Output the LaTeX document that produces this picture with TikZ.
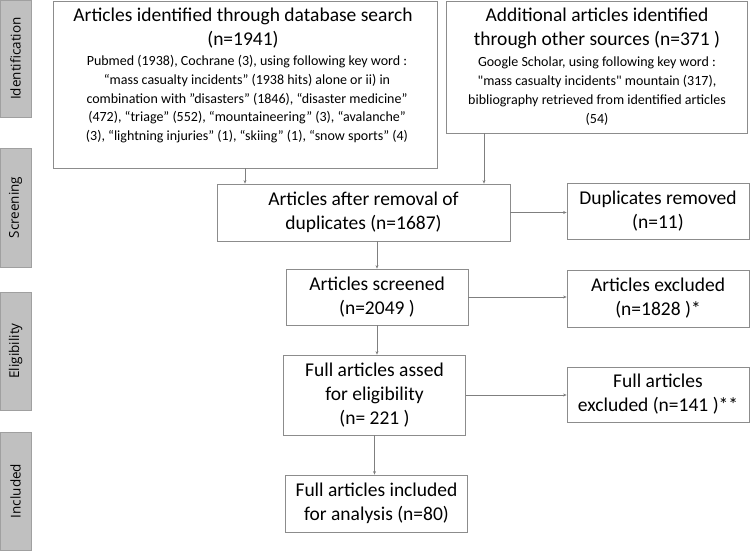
\documentclass[tikz,border=0pt]{standalone}
\usepackage{fontspec}
\setmainfont{Carlito}[Ligatures=TeXOff]
\newfontfamily\sidefont{Open Sans}
\usetikzlibrary{arrows.meta}
\definecolor{boxgray}{HTML}{8C8C8C}
\definecolor{arrgray}{HTML}{7F7F7F}
\definecolor{stagefill}{HTML}{C0C0C0}
\definecolor{stagegray}{HTML}{A0A0A0}

\begin{document}
\begin{tikzpicture}[x=1pt, y=-1pt,
  box/.style={draw=boxgray, line width=0.8pt, minimum width=182pt, minimum height=56pt,
    align=center, inner sep=2pt, font=\fontsize{19.5}{24}\selectfont},
  big/.style={anchor=north, align=center, inner sep=0pt, font=\fontsize{19.5}{24}\selectfont},
  small/.style={anchor=north, align=center, inner sep=0pt, font=\fontsize{14}{18.8}\selectfont},
  stage/.style={draw=stagegray, fill=stagefill, minimum height=31pt, rotate=90,
    font=\sidefont\fontsize{13.5}{16}\selectfont},
  arr/.style={draw=arrgray, line width=0.6pt, -{Stealth[length=3.5pt,width=3pt]}}]
\useasboundingbox (0,0) rectangle (750,550);

\node[stage, minimum width=117pt] (s-1) at (15.5,58.5) {Identification};
\node[stage, minimum width=119pt] (s-2) at (15.5,207.5) {Screening};
\node[stage, minimum width=118pt] (s-3) at (15.5,351) {Eligibility};
\node[stage, minimum width=118pt] (s-4) at (15.5,491) {Included};

\node[box, minimum width=384pt, minimum height=167pt] (db) at (245,84.5) {};
\node[big] (db-t) at (243,8) {Articles identified through database search\\(n=1941)};
\node[small] (db-s) at (247,55) {Pubmed (1938), Cochrane (3), using following key word :\\
  “mass casualty incidents” (1938 hits) alone or ii) in\\
  combination with ”disasters” (1846), “disaster medicine”\\
  (472), “triage” (552), “mountaineering” (3), “avalanche”\\
  (3), “lightning injuries” (1), “skiing” (1), “snow sports” (4)};

\node[box, minimum width=301pt, minimum height=132pt] (other) at (596.5,67) {};
\node[big] (other-t) at (597,8) {Additional articles identified\\through other sources (n=371 )};
\node[small] (other-s) at (597,57) {Google Scholar, using following key word :\\
  "mass casualty incidents" mountain (317),\\
  bibliography retrieved from identified articles\\(54)};

\node[box, minimum width=293pt, minimum height=57pt] (dedup) at (363.5,212.5) {Articles after removal of\\duplicates (n=1687)};
\node[box] (dup) at (658,211) {Duplicates removed\\(n=11)};
\node[box] (scr) at (377,297) {Articles screened\\(n=2049 )};
\node[box, minimum height=57pt] (excl) at (658,298.5) {Articles excluded\\(n=1828 )*};
\node[box, minimum height=80pt] (full) at (374.5,395) {Full articles assed\\for eligibility\\(n= 221 )};
\node[box, minimum height=55pt] (fullex) at (658,394.5) {Full articles\\excluded (n=141 )**};
\node[box, minimum height=57pt] (incl) at (376.5,503.5) {Full articles included\\for analysis (n=80)};

\coordinate (join) at (484,0);
\draw[arr] (db.south) -- (db.south |- dedup.north);
\draw[arr] (other.south -| join) -- (dedup.north -| join);
\draw[arr] (dedup.east) -- (dedup.east -| dup.west);
\draw[arr] (dedup.south -| scr.north) -- (scr.north);
\draw[arr] (scr.east) -- (scr.east -| excl.west);
\draw[arr] (scr.south) -- (scr.south |- full.north);
\draw[arr] (full.east) -- (full.east -| fullex.west);
\draw[arr] (full.south) -- (full.south |- incl.north);
\end{tikzpicture}
\end{document}
